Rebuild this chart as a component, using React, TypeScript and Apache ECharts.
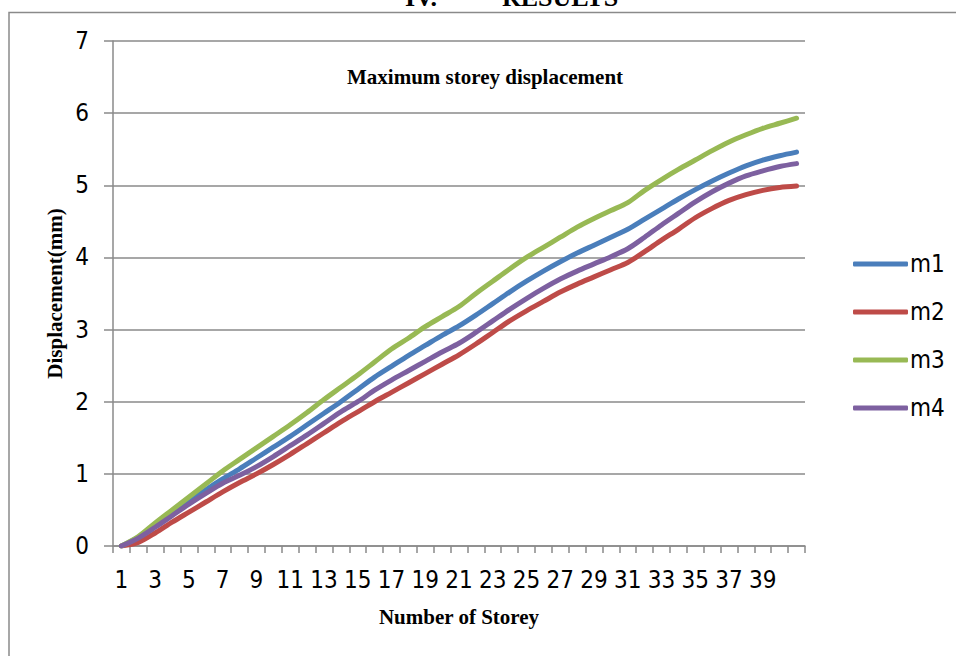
import React, { useEffect, useRef } from "react";
import * as echarts from "echarts";

const storeys: string[] = Array.from({ length: 41 }, (_, i) => String(i + 1));

const m1: number[] = [0, 0.12, 0.28, 0.45, 0.62, 0.78, 0.93, 1.07, 1.22, 1.37, 1.52, 1.68, 1.84, 2.0, 2.17, 2.34, 2.49, 2.64, 2.78, 2.92, 3.05, 3.2, 3.36, 3.52, 3.67, 3.81, 3.94, 4.06, 4.17, 4.28, 4.39, 4.53, 4.67, 4.81, 4.94, 5.06, 5.17, 5.27, 5.35, 5.41, 5.46];
const m2: number[] = [0, 0.05, 0.18, 0.33, 0.47, 0.61, 0.75, 0.88, 1.0, 1.13, 1.27, 1.42, 1.57, 1.72, 1.86, 2.0, 2.13, 2.26, 2.39, 2.52, 2.65, 2.8, 2.96, 3.12, 3.26, 3.39, 3.52, 3.63, 3.73, 3.83, 3.93, 4.08, 4.24, 4.39, 4.55, 4.68, 4.79, 4.87, 4.93, 4.97, 4.99];
const m3: number[] = [0, 0.13, 0.32, 0.5, 0.68, 0.86, 1.04, 1.2, 1.36, 1.52, 1.68, 1.85, 2.03, 2.2, 2.37, 2.55, 2.73, 2.88, 3.04, 3.18, 3.32, 3.5, 3.67, 3.84, 4.0, 4.14, 4.28, 4.42, 4.54, 4.65, 4.76, 4.93, 5.08, 5.22, 5.35, 5.48, 5.6, 5.7, 5.79, 5.86, 5.93];
const m4: number[] = [0, 0.11, 0.26, 0.42, 0.58, 0.73, 0.87, 0.98, 1.1, 1.24, 1.39, 1.54, 1.7, 1.86, 2.0, 2.16, 2.3, 2.43, 2.56, 2.69, 2.81, 2.96, 3.12, 3.28, 3.43, 3.57, 3.7, 3.81, 3.91, 4.01, 4.12, 4.28, 4.45, 4.61, 4.77, 4.91, 5.03, 5.13, 5.2, 5.26, 5.3];

const seriesNames = ["m1", "m2", "m3", "m4"];
const seriesColors = ["#4a7ebb", "#be4b48", "#98b954", "#7d60a0"];
const yTicks = { min: 0, max: 7, interval: 1 };

const SANS = "'Liberation Sans Narrow', 'DejaVu Sans Condensed', Roboto, sans-serif";
const SERIF = "'Liberation Serif', 'Times New Roman', serif";
const GRID_COLOR = "#8a8a8a";

export default function App() {
  const ref = useRef<HTMLDivElement>(null);

  useEffect(() => {
    if (!ref.current) return;
    const chart = echarts.init(ref.current, undefined, { renderer: "svg" });
    const data = [m1, m2, m3, m4];
    chart.setOption({
      animation: false,
      backgroundColor: "#ffffff",
      title: {
        text: "Maximum storey displacement",
        left: 347,
        top: 66,
        padding: 0,
        textStyle: { fontFamily: SERIF, fontWeight: "bold", fontSize: 21, color: "#000", lineHeight: 21 },
      },
      graphic: [
        {
          type: "rect",
          shape: { x: 9, y: 12.5, width: 1200, height: 900 },
          style: { fill: "none", stroke: GRID_COLOR, lineWidth: 1.5 },
          silent: true,
        },
        {
          type: "text",
          x: 405,
          y: -16,
          style: { text: "IV.", fontFamily: SERIF, fontWeight: "bold", fontSize: 26, fill: "#000", verticalAlign: "top" },
        },
        {
          type: "text",
          x: 502,
          y: -16,
          style: { text: "RESULTS", fontFamily: SERIF, fontWeight: "bold", fontSize: 26, fill: "#000", verticalAlign: "top" },
        },
      ],
      legend: {
        orient: "vertical",
        left: 848,
        top: 247,
        itemWidth: 55,
        itemHeight: 5,
        itemGap: 24,
        icon: "roundRect",
        data: seriesNames,
        textStyle: { fontFamily: SANS, fontSize: 24, color: "#000", lineHeight: 24, padding: [0, 0, 0, -3] },
      },
      grid: { left: 113, right: 151, top: 41, bottom: 110, containLabel: false },
      xAxis: {
        type: "category",
        data: storeys,
        boundaryGap: true,
        name: "Number of Storey",
        nameLocation: "middle",
        nameGap: 60,
        nameMoveOverlap: false,
        nameTextStyle: { fontFamily: SERIF, fontWeight: "bold", fontSize: 21, color: "#000", lineHeight: 21 },
        axisLine: { lineStyle: { color: GRID_COLOR, width: 1.5 } },
        axisTick: { show: true, interval: 0, length: 7, lineStyle: { color: GRID_COLOR, width: 1.5 } },
        axisLabel: {
          interval: (idx: number) => idx % 2 === 0 && idx < 40,
          margin: 22,
          fontFamily: SANS,
          fontSize: 24,
          color: "#000",
        },
        splitLine: { show: false },
      },
      yAxis: {
        type: "value",
        min: yTicks.min,
        max: yTicks.max,
        interval: yTicks.interval,
        name: "Displacement(mm)",
        nameLocation: "middle",
        nameGap: 48,
        nameMoveOverlap: false,
        nameTextStyle: { fontFamily: SERIF, fontWeight: "bold", fontSize: 21, color: "#000", lineHeight: 21 },
        axisLine: { show: true, lineStyle: { color: GRID_COLOR, width: 1.5 } },
        axisTick: { show: true, length: 9, lineStyle: { color: GRID_COLOR, width: 1.5 } },
        axisLabel: { margin: 24, fontFamily: SANS, fontSize: 24, color: "#000" },
        splitLine: { show: true, lineStyle: { color: GRID_COLOR, width: 1.5 } },
      },
      series: seriesNames.map((name, i) => ({
        name,
        type: "line",
        data: data[i],
        smooth: 0.3,
        showSymbol: false,
        symbol: "none",
        color: seriesColors[i],
        lineStyle: { width: 5, color: seriesColors[i], cap: "round", join: "round" },
        itemStyle: { color: seriesColors[i] },
      })),
    });
    return () => chart.dispose();
  }, []);

  return (
    <div
      ref={ref}
      style={{ position: "fixed", left: 0, top: 0, width: 956, height: 656, background: "#fff" }}
    />
  );
}
